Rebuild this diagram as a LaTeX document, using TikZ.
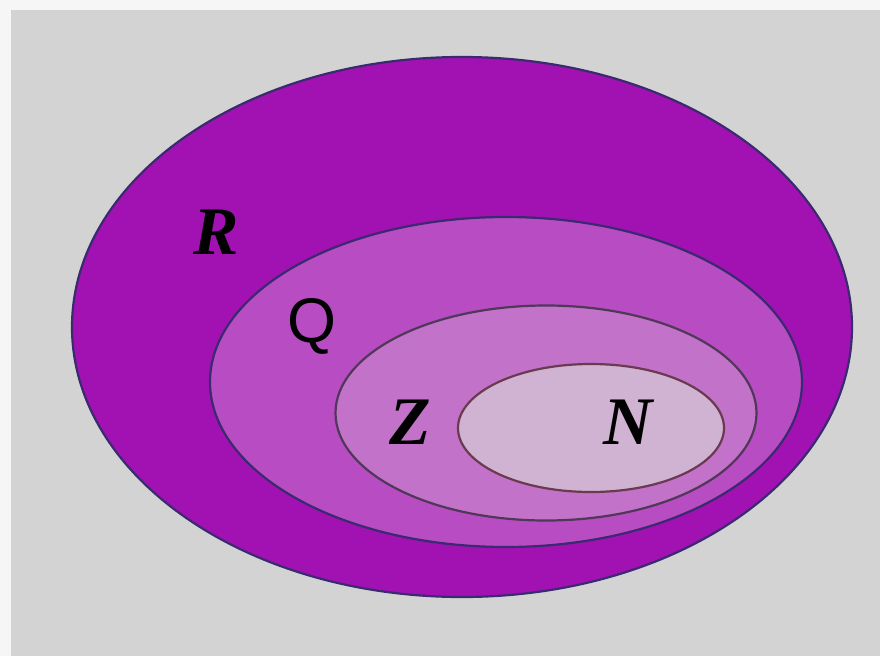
\documentclass[tikz,border=0pt]{standalone}
\usepackage{fontspec}
\setmainfont{Liberation Serif}
\newfontfamily\qsans{Liberation Sans}
\usetikzlibrary{shapes.geometric}
\definecolor{bgwhite}{HTML}{F6F6F6}
\definecolor{bggrey}{HTML}{D3D3D3}
\definecolor{rfill}{HTML}{A212B2}
\definecolor{qfill}{HTML}{B84CC2}
\definecolor{zfill}{HTML}{C272C8}
\definecolor{nfill}{HTML}{D0B2D2}
\definecolor{edgeblue}{HTML}{3A2A70}
\definecolor{edgez}{HTML}{503858}
\definecolor{edgen}{HTML}{6A3A50}
\tikzset{
  setshape/.style={ellipse, inner sep=0pt, line width=2.2pt},
  lab/.style={font=\fontsize{68}{68}\selectfont\bfseries\itshape, text=black, inner sep=0pt},
  labq/.style={font=\qsans\fontsize{63}{63}\selectfont, text=black, inner sep=0pt}
}
\begin{document}
\begin{tikzpicture}[x=1pt,y=-1pt]
\fill[bgwhite] (0,0) rectangle (880,656);
\fill[bggrey] (11,10) rectangle (880,656);
\useasboundingbox (0,0) rectangle (880,656);
\node[setshape, draw=edgeblue, fill=rfill, minimum width=780pt, minimum height=540pt] (R) at (462,327) {};
\node[setshape, draw=edgeblue, fill=qfill, minimum width=592pt, minimum height=330pt] (Q) at (506,382) {};
\node[setshape, draw=edgez, fill=zfill, minimum width=421pt, minimum height=215pt] (Z) at (546,413) {};
\node[setshape, draw=edgen, fill=nfill, minimum width=266pt, minimum height=128pt] (N) at (591,428) {};
\node[lab] (Rl) at (216,232) {R};
\node[labq] (Ql) at (312,326) {Q};
\node[lab] (Zl) at (410,422) {Z};
\node[lab] (Nl) at (628,422) {N};
\end{tikzpicture}
\end{document}
